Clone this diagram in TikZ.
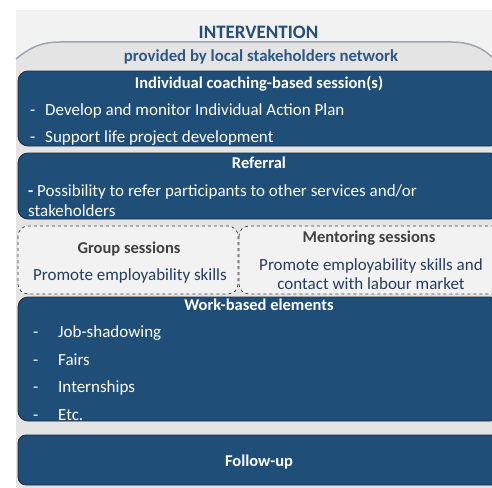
\documentclass[tikz,border=0pt]{standalone}
\usepackage{fontspec}
\setmainfont{Carlito}
\definecolor{navy}{RGB}{31,78,121}
\definecolor{navyline}{RGB}{24,45,68}
\definecolor{bgl}{RGB}{242,242,242}
\definecolor{bgd}{RGB}{228,228,228}
\definecolor{arcline}{RGB}{160,165,175}
\definecolor{ttl}{RGB}{37,78,122}
\definecolor{sub}{RGB}{46,88,132}
\definecolor{dtext}{RGB}{38,60,96}
\definecolor{dgray}{RGB}{64,64,64}
\tikzset{
  bluebox/.style={fill=navy,draw=navyline,line width=0.8pt,rounded corners=10pt},
  dashbox/.style={fill=bgl,draw=dgray,dashed,line width=0.7pt,rounded corners=10pt},
  wtitle/.style={anchor=base,text=white,font=\fontsize{16.5}{19}\selectfont\bfseries,inner sep=0pt},
  wtext/.style={anchor=base west,text=white,font=\fontsize{17}{20}\selectfont,inner sep=0pt},
  dtitle/.style={anchor=base,text=dgray,font=\fontsize{16.5}{19}\selectfont\bfseries,inner sep=0pt},
  dtxt/.style={anchor=base,text=dtext,font=\fontsize{17}{20}\selectfont,inner sep=0pt}
}
\begin{document}
\begin{tikzpicture}[x=1pt,y=-1pt]
\useasboundingbox (0,0) rectangle (492,487);
\begin{scope}
\clip (0,0) rectangle (492,487);
% backgrounds
\fill[bgl] (16,10) rectangle (492,487);
\fill[bgd] (16,59) .. controls (28,49) and (40,42) .. (60,42) -- (452,42) .. controls (472,42) and (486,50) .. (495,60) -- (495,490) -- (16,490) -- cycle;
\draw[arcline,line width=1.5pt] (16,59) .. controls (28,49) and (40,42) .. (60,42) -- (452,42) .. controls (472,42) and (486,50) .. (495,60);
% titles
\node[anchor=base,text=ttl,font=\fontsize{19}{22}\selectfont\bfseries,inner sep=0pt] (title) at (258.5,39) {INTERVENTION};
\node[anchor=base,text=sub,font=\fontsize{16.8}{19}\selectfont\bfseries,inner sep=0pt] (subtitle) at (261,62) {provided by local stakeholders network};
% box 1
\draw[bluebox] (18,71) rectangle (500,146);
\node[wtitle] (t1) at (259,88) {Individual coaching-based session(s)};
\node[wtext] (d1a) at (30,115) {-};
\node[wtext] (i1a) at (45,115) {Develop and monitor Individual Action Plan};
\node[wtext] (d1b) at (30,142) {-};
\node[wtext] (i1b) at (45,142) {Support life project development};
% box 2
\draw[bluebox] (18,153) rectangle (500,219);
\node[wtitle] (t2) at (259,168) {Referral};
\node[wtext] (i2a) at (28,196) {\textbf{-} Possibility to refer participants to other services and/or};
\node[wtext] (i2b) at (28,216) {stakeholders};
% dashed boxes
\draw[dashbox] (18,226) rectangle (238,294);
\node[dtitle] (g1) at (129,253) {Group sessions};
\node[dtxt] (g2) at (130,280) {Promote employability skills};
\draw[dashbox] (239,226) rectangle (505,294);
\node[dtitle] (m1) at (369,242) {Mentoring sessions};
\node[dtxt] (m2) at (371,270) {Promote employability skills and};
\node[dtxt] (m3) at (371,289) {contact with labour market};
% box 4
\begin{scope}
\path[bluebox,draw=none] (18,297) rectangle (500,421);
\clip[rounded corners=10pt] (18,297) rectangle (500,421);
\node[wtext] (d4d) at (33,420) {-};
\node[wtext] (i4d) at (58,420) {Etc.};
\end{scope}
\draw[navyline,line width=0.8pt,rounded corners=10pt] (18,297) rectangle (500,421);
\node[wtitle] (t4) at (259,310) {Work-based elements};
\node[wtext] (d4a) at (33,337) {-};
\node[wtext] (i4a) at (58,337) {Job-shadowing};
\node[wtext] (d4b) at (33,365) {-};
\node[wtext] (i4b) at (58,365) {Fairs};
\node[wtext] (d4c) at (33,392) {-};
\node[wtext] (i4c) at (58,392) {Internships};
% box 5
\draw[bluebox,rounded corners=8pt] (18,435) rectangle (500,485);
\node[wtitle] (t5) at (259,466) {Follow-up};
\end{scope}
\end{tikzpicture}
\end{document}
